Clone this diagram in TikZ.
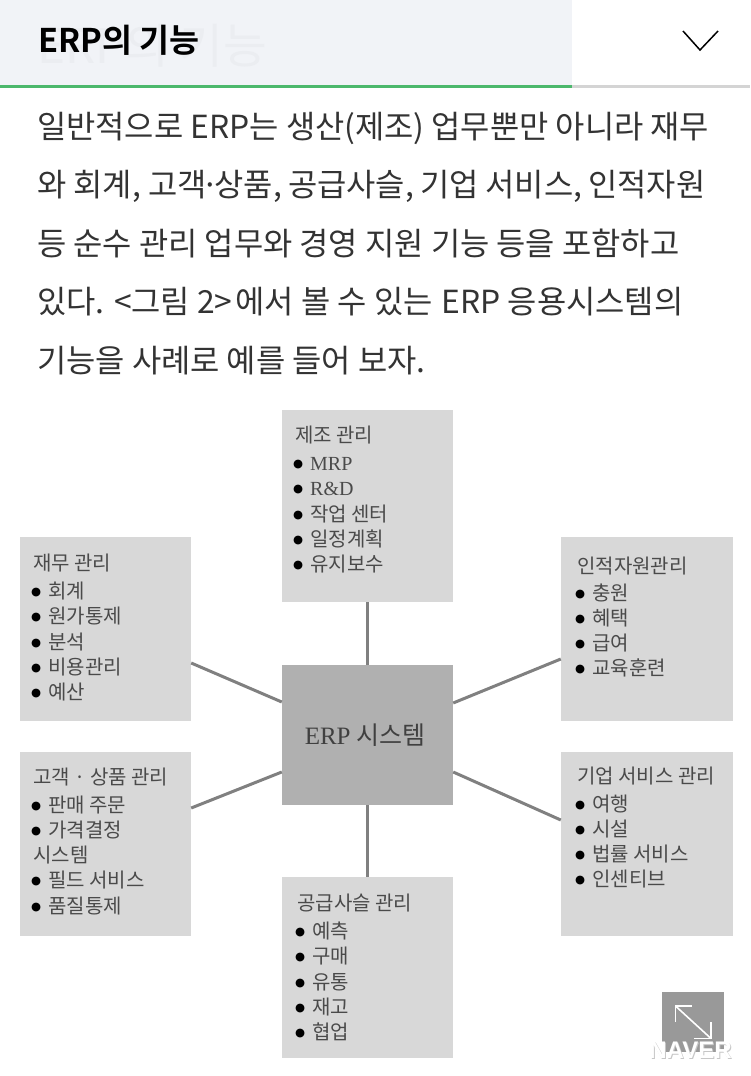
\documentclass[tikz,border=0pt]{standalone}
\usepackage{fontspec}
\usepackage{tikz}
\newfontfamily\krfont{Noto Sans CJK KR}
\newfontfamily\krbold{Noto Sans CJK KR Bold}
\newfontfamily\latfont{Liberation Serif}
\newfontfamily\logofont{Liberation Sans}
\newfontfamily\dotfont{DejaVu Sans}
\definecolor{headbg}{HTML}{F1F3F7}
\definecolor{ghostgray}{HTML}{EBEDF1}
\definecolor{navgreen}{HTML}{4CB86C}
\definecolor{navline}{HTML}{D4D4D4}
\definecolor{bodytext}{HTML}{333333}
\definecolor{paneltxt}{HTML}{4A4A4A}
\definecolor{panelgray}{HTML}{D8D8D8}
\definecolor{hubgray}{HTML}{B0B0B0}
\definecolor{linkgray}{HTML}{808080}
\definecolor{btngray}{HTML}{999999}
\newcommand{\itm}[1]{\makebox[15pt][l]{\makebox[6pt][c]{\color{black}\raisebox{3pt}{\dotfont\fontsize{11.5}{0}\selectfont ●}}}#1}
\tikzset{
  panel/.style={fill=panelgray,inner sep=0pt,minimum width=171pt,minimum height=184pt},
  paneltext/.style={anchor=north west,inner sep=0pt,align=left,text=paneltxt,font=\krfont\fontsize{20}{25.3}\selectfont},
  link/.style={draw=linkgray,line width=3pt},
  whiteline/.style={draw=white,line width=1.6pt}
}
\begin{document}
\begin{tikzpicture}[x=1pt,y=1pt]
\useasboundingbox (0,0) rectangle (750,-1076);
\fill[headbg] (0,0) rectangle (572,-85);
\fill[navgreen] (0,-85) rectangle (572,-87.5);
\fill[navline] (572,-85) rectangle (750,-87.5);
\node[anchor=base west,inner sep=0pt,text=ghostgray,font=\krfont\fontsize{47.5}{47.5}\selectfont] (ghost) at (37,-63) {ERP의 기능};
\node[anchor=base west,inner sep=0pt,font=\krbold\fontsize{32.6}{32.6}\selectfont] (headtitle) at (38,-52) {ERP의 기능};
\draw[line width=1.5pt] (683,-31)--(700,-50)--(718,-31);

\node[anchor=north west,inner sep=0pt,align=left,text=bodytext,font=\krfont\fontsize{31.8}{58.4}\selectfont] (bodytxt) at (37,-112) {일반적으로 ERP는 생산(제조) 업무뿐만 아니라 재무\\와 회계, 고객\makebox[8pt]{·}상품,\hspace{-1pt} 공급사슬,\hspace{-1pt} 기업 서비스,\hspace{-1pt} 인적자원\\등 순수 관리 업무와 경영 지원 기능 등을 포함하고\\있다. <그림 2>\hspace{3pt}에서 볼 수 있는\hspace{2pt} ERP 응용시스템의\\기능을 사례로 예를 들어 보자.};

\node[panel,minimum height=192pt] (mfg) at (367.5,-506) {};
\node[panel] (fin) at (105.5,-629) {};
\node[panel] (crm) at (105.5,-844) {};
\node[panel,minimum width=172pt] (hr) at (647,-629) {};
\node[panel,minimum width=172pt] (biz) at (647,-844) {};
\node[panel,minimum height=181pt] (scm) at (367.5,-967.5) {};
\node[fill=hubgray,inner sep=0pt,minimum width=171pt,minimum height=140pt,text=black!75,font=\krfont\fontsize{25}{25}\selectfont] (erp) at (367.5,-735) {{\latfont ERP} 시스템\hspace*{5pt}};

\draw[link] (mfg.south)--(erp.north);
\draw[link] (erp.south)--(scm.north);
\draw[link] ([yshift=-34pt]fin.east)--([yshift=33pt]erp.west);
\draw[link] ([yshift=36pt]crm.east)--([yshift=-37pt]erp.west);
\draw[link] ([yshift=32pt]erp.east)--([yshift=-30pt]hr.west);
\draw[link] ([yshift=-37pt]erp.east)--([yshift=24pt]biz.west);

\node[paneltext] (mfgtext) at (295,-426) {제조 관리\\[2.5pt]\itm{\latfont MRP}\\\itm{\latfont R\&D}\\\itm{작업 센터}\\\itm{일정계획}\\\itm{유지보수}};
\node[paneltext] (fintext) at (33,-554) {재무 관리\\[2.5pt]\itm{회계}\\\itm{원가통제}\\\itm{분석}\\\itm{비용관리}\\\itm{예산}};
\node[paneltext] (crmtext) at (33,-768) {고객 · 상품 관리\\[2pt]\itm{판매 주문}\\\itm{가격결정}\\시스템\\\itm{필드 서비스}\\\itm{품질통제}};
\node[paneltext] (hrtext) at (577,-557) {인적자원관리\\[1pt]\itm{충원}\\\itm{혜택}\\\itm{급여}\\\itm{교육훈련}};
\node[paneltext] (biztext) at (577,-767) {기업 서비스 관리\\[2pt]\itm{여행}\\\itm{시설}\\\itm{법률 서비스}\\\itm{인센티브}};
\node[paneltext] (scmtext) at (297,-894) {공급사슬 관리\\[2.5pt]\itm{예측}\\\itm{구매}\\\itm{유통}\\\itm{재고}\\\itm{협업}};

\fill[btngray] (662,-992) rectangle (724,-1052);
\draw[whiteline] (675.5,-1022)--(675.5,-1006)--(692,-1006);
\draw[whiteline] (711,-1022)--(711,-1038.5)--(694,-1038.5);
\draw[whiteline] (675.5,-1006)--(711,-1038.5);
\node[inner sep=0pt,text=black!22,font=\logofont\bfseries\fontsize{24}{24}\selectfont] (logoshadow) at (691.5,-1051.5) {NAVER};
\node[inner sep=0pt,text=white,font=\logofont\bfseries\fontsize{24}{24}\selectfont] (logo) at (690.5,-1050.5) {NAVER};
\end{tikzpicture}
\end{document}
